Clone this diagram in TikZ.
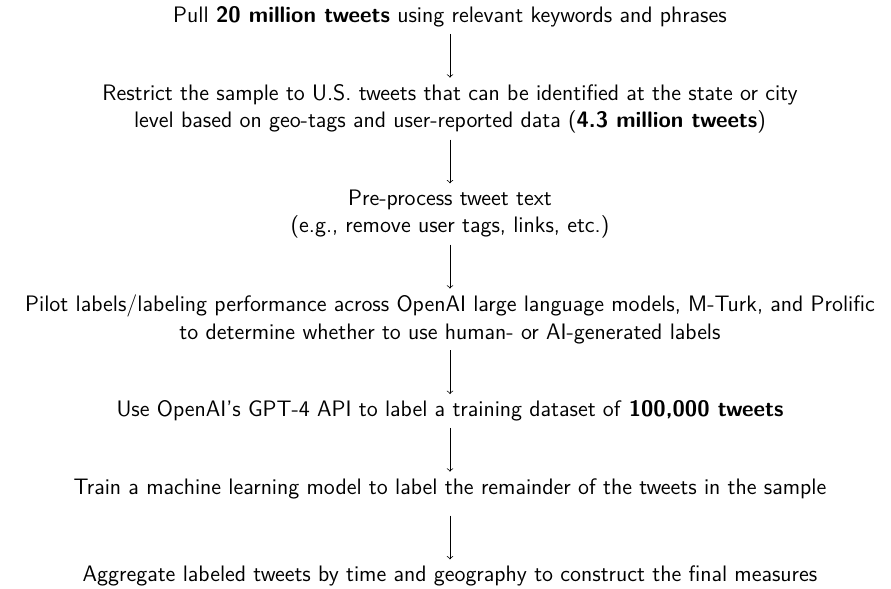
\documentclass[tikz,border=0pt]{standalone}
\renewcommand\familydefault{\sfdefault}
\usetikzlibrary{positioning}
\begin{document}
\begin{tikzpicture}[x=0.536pt, y=-0.536pt,
  node distance=23.5pt,
  stage/.style={align=center, font=\sffamily\fontsize{12}{14.5}\selectfont},
  flow/.style={->, line width=0.4pt}]
% one drawing unit is one pixel of the page
\useasboundingbox (0,0) rectangle (891,588);

\node[stage, anchor=north] (pull) at (450,0) {Pull \textbf{20 million tweets} using relevant keywords and phrases};
\node[stage, below=of pull] (restrict) {Restrict the sample to U.S.\ tweets that can be identified at the state or city\\level based on geo-tags and user-reported data (\textbf{4.3 million tweets})};
\node[stage, below=of restrict] (prep) {Pre-process tweet text\\(e.g., remove user tags, links, etc.)};
\node[stage, below=of prep] (pilot) {Pilot labels/labeling performance across OpenAI large language models, M-Turk, and Prolific\\to determine whether to use human- or AI-generated labels};
\node[stage, below=of pilot] (gpt) {Use OpenAI's GPT-4 API to label a training dataset of \textbf{100,000 tweets}};
% this step keeps a little extra room beneath its text
\node[stage, below=of gpt, text depth=8pt] (train) {Train a machine learning model to label the remainder of the tweets in the sample};
\node[stage, below=of train] (agg) {Aggregate labeled tweets by time and geography to construct the final measures};

\draw[flow] (pull) -- (restrict);
\draw[flow] (restrict) -- (prep);
\draw[flow] (prep) -- (pilot);
\draw[flow] (pilot) -- (gpt);
\draw[flow] (gpt) -- (train);
\draw[flow] (train) -- (agg);
\end{tikzpicture}
\end{document}
